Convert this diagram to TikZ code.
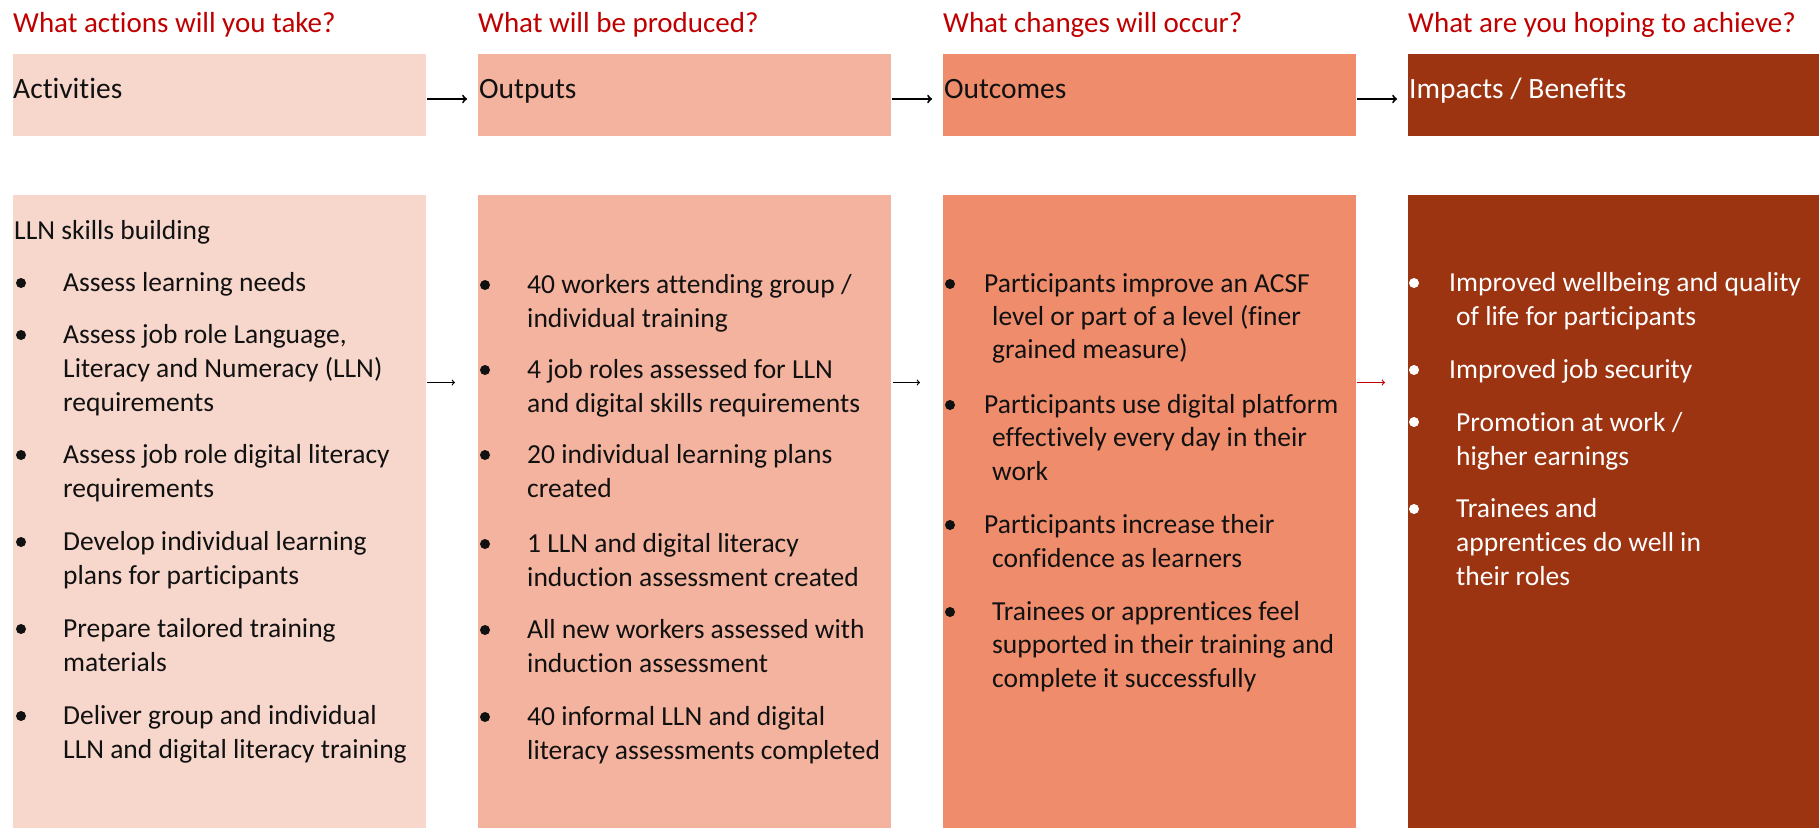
\documentclass[tikz,border=0pt]{standalone}
\usepackage{fontspec}
\setmainfont{Carlito}[Ligatures=NoCommon]
\usepackage{xcolor}
\usetikzlibrary{positioning}

\definecolor{actfill}{HTML}{F7D7CC}
\definecolor{outfill}{HTML}{F3B39E}
\definecolor{ocmfill}{HTML}{EE8C6B}
\definecolor{impfill}{HTML}{9C3311}
\definecolor{asktext}{HTML}{C00000}
\definecolor{bodytext}{HTML}{111111}

\begin{document}
\begin{tikzpicture}[x=1pt, y=-1pt,
    colbox/.style={inner sep=0pt, outer sep=0pt, anchor=north west, minimum width=413pt},
    headbox/.style={colbox, minimum height=82pt},
    bodybox/.style={colbox, minimum height=633pt},
    asktag/.style={anchor=base west, inner sep=0pt, text=asktext, font=\fontsize{29}{34}\selectfont},
    headtext/.style={anchor=base west, inner sep=0pt, text=bodytext, font=\fontsize{29.5}{34}\selectfont},
    % multi-line nodes sit on the baseline of their last line
    pointtext/.style={anchor=base west, inner sep=0pt, align=left, text=bodytext, font=\fontsize{27.5}{34}\selectfont},
    headarrow/.style={->, line width=2pt, shorten >=11pt, shorten <=1pt},
    bodyarrow/.style={->, line width=1.2pt, shorten >=23pt, shorten <=1pt}]

    \useasboundingbox (0,0) rectangle (1819,828);

    % header row
    \node[headbox, fill=actfill] (acthead) at (13,54) {};
    \node[headbox, fill=outfill] (outhead) at (478,54) {};
    \node[headbox, fill=ocmfill] (ocmhead) at (943,54) {};
    \node[headbox, fill=impfill] (imphead) at (1408,54) {};

    % lower boxes
    \node[bodybox, fill=actfill] (actbody) at (13,195) {};
    \node[bodybox, fill=outfill] (outbody) at (478,195) {};
    \node[bodybox, fill=ocmfill] (ocmbody) at (943,195) {};
    \node[bodybox, fill=impfill] (impbody) at (1408,195) {};

    % questions
    \node[asktag] (actask) at (13,32) {What actions will you take?};
    \node[asktag] (outask) at (478,32) {What will be produced?};
    \node[asktag] (ocmask) at (943,32) {What changes will occur?};
    \node[asktag] (impask) at (1408,32) {What are you hoping to achieve?};

    % names
    \node[headtext] (actname) at (13,98) {Activities};
    \node[headtext] (outname) at (479,98) {Outputs};
    \node[headtext] (ocmname) at (944,98) {Outcomes};
    \node[headtext, text=white] (impname) at (1409,98) {Impacts / Benefits};

    % arrows
    \draw[headarrow] ([yshift=-4pt]acthead.east) -- ([yshift=-4pt]outhead.west);
    \draw[headarrow] ([yshift=-4pt]outhead.east) -- ([yshift=-4pt]ocmhead.west);
    \draw[headarrow] ([yshift=-4pt]ocmhead.east) -- ([yshift=-4pt]imphead.west);
    \draw[bodyarrow] ([yshift=129pt]actbody.east) -- ([yshift=129pt]outbody.west);
    \draw[bodyarrow, shorten <=2pt] ([yshift=129pt]outbody.east) -- ([yshift=129pt]ocmbody.west);
    \draw[bodyarrow, asktext] ([yshift=129pt]ocmbody.east) -- ([yshift=129pt]impbody.west);

    % activities
    \node[headtext, font=\fontsize{27.5}{34}\selectfont] (actsub) at (14,239) {LLN skills building};
    \node[pointtext] (act1) at (63,291) {Assess learning needs};
    \node[pointtext] (act2) at (63,411) {Assess job role Language,\\Literacy and Numeracy (LLN)\\requirements};
    \node[pointtext] (act3) at (63,497) {Assess job role digital literacy\\requirements};
    \node[pointtext] (act4) at (63,584) {Develop individual learning\\plans for participants};
    \node[pointtext] (act5) at (63,671) {Prepare tailored training\\materials};
    \node[pointtext] (act6) at (63,758) {Deliver group and individual\\LLN and digital literacy training};
    \foreach \y in {291,343,463,550,637,724}
        \fill[bodytext] (21,\y-8) circle (5pt);

    % outputs
    \node[pointtext] (out1) at (527,327) {40 workers attending group /\\individual training};
    \node[pointtext] (out2) at (527,412) {4 job roles assessed for LLN\\and digital skills requirements};
    \node[pointtext] (out3) at (527,497) {20 individual learning plans\\created};
    \node[pointtext] (out4) at (527,586) {1 LLN and digital literacy\\induction assessment created};
    \node[pointtext] (out5) at (527,672) {All new workers assessed with\\induction assessment};
    \node[pointtext] (out6) at (527,759) {40 informal LLN and digital\\literacy assessments completed};
    \foreach \y in {293,378,463,552,638,725}
        \fill[bodytext] (485,\y-8) circle (5pt);

    % outcomes
    \node[pointtext, font=\fontsize{27.5}{33}\selectfont] (ocm1) at (992,358) {\hspace*{-8pt}Participants improve an ACSF\\level or part of a level (finer\\grained measure)};
    \node[pointtext, font=\fontsize{27.5}{33.5}\selectfont] (ocm2) at (992,480) {\hspace*{-8pt}Participants use digital platform\\effectively every day in their\\work};
    \node[pointtext] (ocm3) at (992,567) {\hspace*{-8pt}Participants increase their\\confidence as learners};
    \node[pointtext, font=\fontsize{27.5}{33.5}\selectfont] (ocm4) at (992,687) {Trainees or apprentices feel\\supported in their training and\\complete it successfully};
    \foreach \y in {292,413,533,620}
        \fill[bodytext] (950,\y-8) circle (5pt);

    % impacts
    \node[pointtext, text=white] (imp1) at (1456,325) {\hspace*{-7pt}Improved wellbeing and quality\\of life for participants};
    \node[pointtext, text=white] (imp2) at (1449,378) {Improved job security};
    \node[pointtext, text=white] (imp3) at (1456,465) {Promotion at work /\\higher earnings};
    \node[pointtext, text=white] (imp4) at (1456,585) {Trainees and\\apprentices do well in\\their roles};
    \foreach \y in {291,378,430,517}
        \fill[white] (1414,\y-8) circle (5pt);
\end{tikzpicture}
\end{document}
